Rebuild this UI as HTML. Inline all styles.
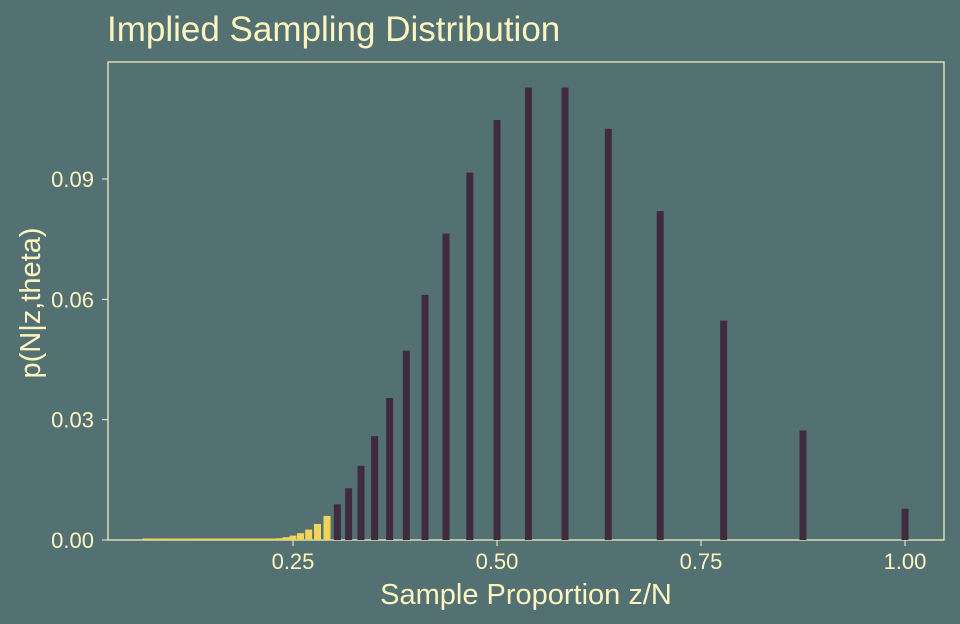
<!DOCTYPE html>
<html><head><meta charset="utf-8"><style>
body{margin:0;background:#537072;}
svg{display:block;font-family:"Liberation Sans",sans-serif;}
</style></head><body>
<svg id="chart" width="960" height="624">
<rect width="960" height="624" fill="#537072"/>
<text x="107" y="41" font-size="35" fill="#fdf5c0">Implied Sampling Distribution</text>
<rect x="108" y="62" width="836" height="478" fill="none" stroke="#fdf5c0" stroke-width="1.2"/>
<g id="bars"></g>
<g id="axes"></g>
<text x="526" y="604" font-size="29" fill="#fdf5c0" text-anchor="middle">Sample Proportion z/N</text>
<text transform="translate(40,303) rotate(-90)" font-size="29" fill="#fdf5c0" text-anchor="middle">p(N|z,theta)</text>
</svg>
<script>
const sampleN = [7,8,9,10,11,12,13,14,15,16,17,18,19,20,21,22,23,24,25,26,27,28,29,30,31,32,33,34,35,36,37,38,39,40];
const probs = [0.0078,0.0273,0.0547,0.082,0.1025,0.1128,0.1128,0.1047,0.0916,0.0764,0.0611,0.0472,0.0354,0.0259,0.0185,0.0129,0.0089,0.0060,0.0040,0.0026,0.0017,0.0011,0.0007,0.00044,0.00028,0.00017,0.0001,0.00006,0.00004,0.00002,0.00001,0.00001,0,0];
const zFixed = 7;
const xTicks = [0.25,0.5,0.75,1.0];
const xTickLabels = ["0.25","0.50","0.75","1.00"];
const yTicks = [0,0.03,0.06,0.09];
const yTickLabels = ["0.00","0.03","0.06","0.09"];
const critN = 24;

const ns='http://www.w3.org/2000/svg';
const X = v => 89 + v*816;
const Y = v => 540 - v*4011;
const bars = document.getElementById('bars');
const allN = sampleN.slice();
const allP = probs.slice();
for (let n = 41; n <= 100; n++) { allN.push(n); allP.push(0); }
allN.forEach((n,i)=>{
  const p = allP[i];
  const r = document.createElementNS(ns,'rect');
  const x = X(zFixed/n);
  const tail = n >= critN;
  let h = 540 - Y(p);
  if (tail && h < 1.5) h = 1.5;
  r.setAttribute('x', x-3.5);
  r.setAttribute('width', 7);
  r.setAttribute('y', 540-h);
  r.setAttribute('height', h);
  r.setAttribute('fill', tail ? '#f2d35b' : '#3f2a40');
  
  
  bars.appendChild(r);
});
const axes = document.getElementById('axes');
xTicks.forEach((t,i)=>{
  const l = document.createElementNS(ns,'line');
  l.setAttribute('x1',X(t));l.setAttribute('x2',X(t));l.setAttribute('y1',540);l.setAttribute('y2',546);
  l.setAttribute('stroke','#fdf5c0');
  
  
  axes.appendChild(l);
  const tx = document.createElementNS(ns,'text');
  tx.setAttribute('x',X(t));tx.setAttribute('y',569);tx.setAttribute('text-anchor','middle');
  tx.setAttribute('font-size','22');tx.setAttribute('fill','#fdf5c0');
  tx.textContent = xTickLabels[i];
  
  
  axes.appendChild(tx);
});
yTicks.forEach((t,i)=>{
  const l = document.createElementNS(ns,'line');
  l.setAttribute('x1',102);l.setAttribute('x2',108);l.setAttribute('y1',Y(t));l.setAttribute('y2',Y(t));
  l.setAttribute('stroke','#fdf5c0');
  
  
  axes.appendChild(l);
  const tx = document.createElementNS(ns,'text');
  tx.setAttribute('x',94);tx.setAttribute('y',Y(t)+8);tx.setAttribute('text-anchor','end');
  tx.setAttribute('font-size','22');tx.setAttribute('fill','#fdf5c0');
  tx.textContent = yTickLabels[i];
  
  
  axes.appendChild(tx);
});
</script>
</body></html>
